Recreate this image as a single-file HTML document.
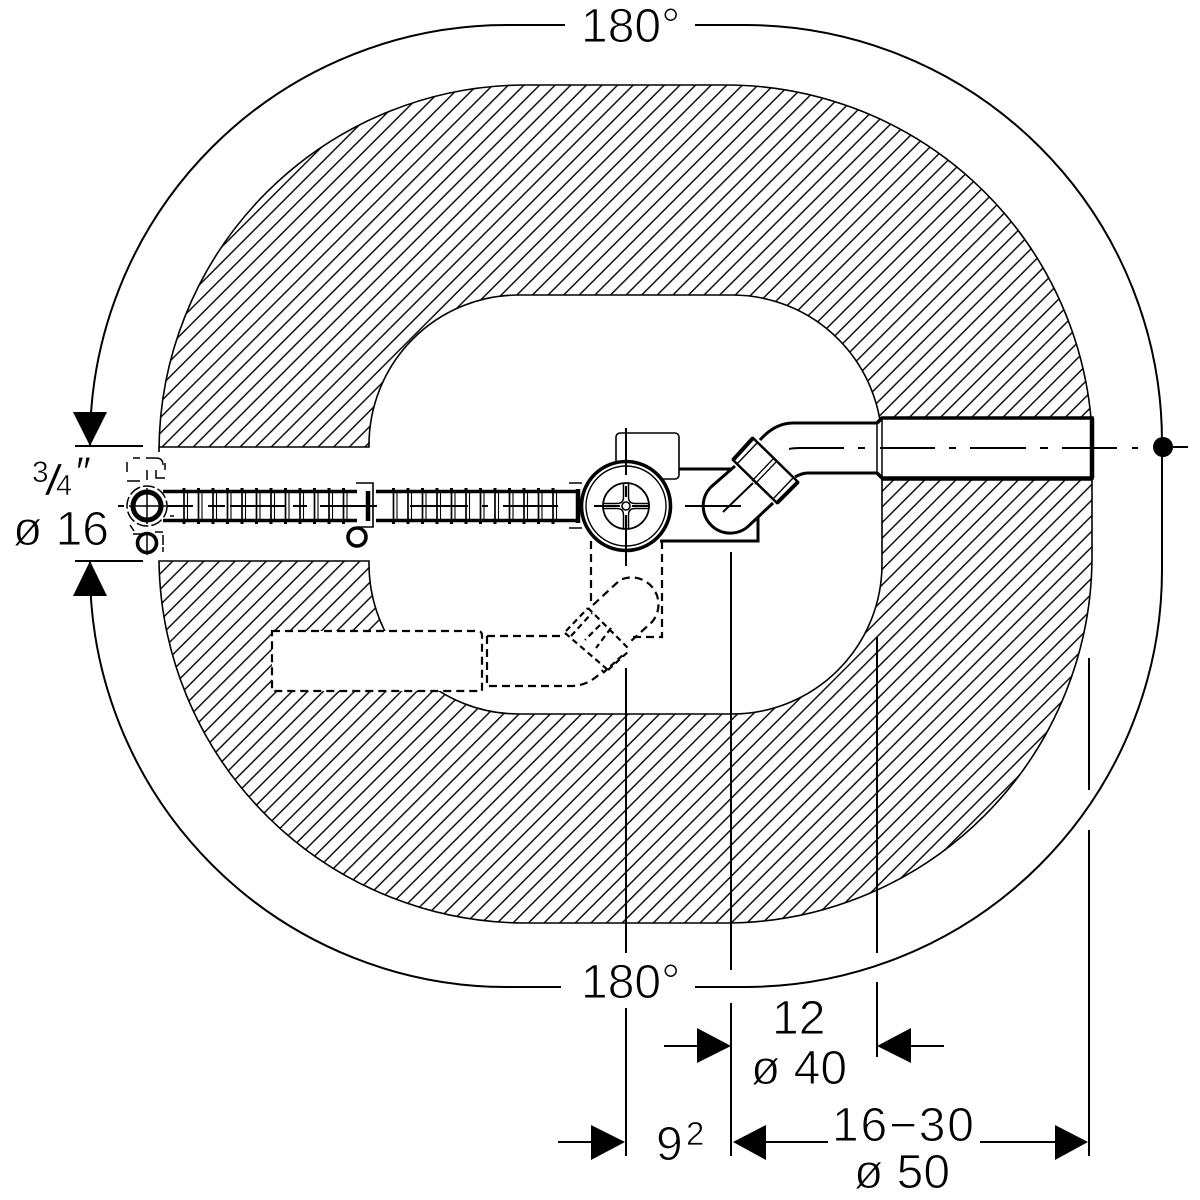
<!DOCTYPE html>
<html><head><meta charset="utf-8"><style>
html,body{margin:0;padding:0;background:#fff}
svg{display:block}
text{font-family:"Liberation Sans",sans-serif;font-size:48px;fill:#000;stroke:#fff;stroke-width:1px}
</style></head><body>
<svg width="1200" height="1200" viewBox="0 0 1200 1200" xmlns="http://www.w3.org/2000/svg" fill="none" stroke="#000" stroke-width="1.5">
<defs>
<pattern id="h" patternUnits="userSpaceOnUse" x="0.67" y="0" width="15.6" height="15.6">
<path d="M-2 2L2 -2M0 15.6L15.6 0M13.6 17.6L17.6 13.6" stroke="#000" stroke-width="1.4" fill="none"/>
</pattern>
</defs>
<!-- hatched ring -->
<path d="M159 447V452A367 367 0 0 1 526 85H725A367 367 0 0 1 1091 418H882V445A150 150 0 0 0 732 295H519A150 150 0 0 0 369 445V447Z" fill="url(#h)" stroke-width="1.6"/>
<path d="M159 561A367 367 0 0 0 526 923H725A367 367 0 0 0 1092 556V480H882V564A150 150 0 0 1 732 714H519A150 150 0 0 1 369 564V561Z" fill="url(#h)" stroke-width="1.6"/>
<!-- outer dimension arc -->
<path d="M565 25H507A417 417 0 0 0 90 442V446M90 561V570A417 417 0 0 0 507 987H561M695 987H745A417 417 0 0 0 1162 570V442A417 417 0 0 0 745 25H695" stroke-width="2"/>
<!-- dim extension lines -->
<path d="M75 446H143M75 561H143M626 668V953M626 1008V1156M731 552V970M731 1003V1156M877 637V953M877 982V1057M1089 658V790M1089 830V1156M664 1046H700M911 1046H944M558 1142H592M766 1142H828M980 1142H1055" stroke-width="2"/>
<path d="M73 412H107L90 446ZM73 596H107L90 561ZM697 1028V1063L731 1046ZM911 1028V1063L877 1046ZM591 1125V1160L625 1142ZM766 1125V1160L733 1142ZM1055 1125V1160L1088 1142Z" fill="#000" stroke="none"/>
<!-- dashed ghost box -->
<rect x="272" y="631" width="210" height="60" fill="#fff" stroke="none"/>
<path d="M272 631H478Q482 631 482 636V691H272Z" stroke-width="2.2" stroke-dasharray="8 5"/>
<path d="M487 636H565M487 636V686H570Q590 686 603 670M593 605L620 580A27 27 0 0 1 652 622L630 642M591 541V605M662 541V637H632" stroke-width="2.2" stroke-dasharray="8 5"/>
<path d="M566 631L588 608M571 636L592 613M588 608L630 650M608 670L630 650M603 673L625 653M600 625L585 640M611 628L596 648M565 633L608 670" stroke-width="2.2" stroke-dasharray="6 4"/>
<!-- rounded block behind valve -->
<rect x="616" y="433" width="63" height="46" rx="4" fill="#fff" stroke-width="1.6"/>
<path d="M679 469H732M660 541H758V515" stroke-width="3"/>
<!-- outlet pipe -->
<path d="M760 440Q775 423 793 423H877M795 477Q802 473 808 473H877" stroke-width="3"/>
<path d="M877 423L882 418H1092V478H882L877 473Z" fill="#fff" stroke="none"/>
<path d="M877 423L882 418H1092V478H882L877 473" stroke-width="3.6"/>
<path d="M877 423V473M882 418V478" stroke-width="1.5"/>
<path d="M1092 418V478" stroke-width="4.5"/>
<path d="M789 449Q793 448 800 448H844M858 448H865M880 448H935M949 448H956M970 448H1026M1040 448H1048M1062 448H1117M1132 448H1138M1170 447H1188" stroke-width="2"/>
<circle cx="1163" cy="447" r="10" fill="#000" stroke="none"/>
<!-- capsule -->
<path d="M735 466L711 487A27 27 0 0 0 749.6 525L773 503" fill="#fff" stroke-width="3"/>
<path d="M753 438L733 460L777 503L798 482Z" fill="#fff" stroke-width="2.5"/>
<path d="M757 443L737 464M793 478L773 499" stroke-width="1.4"/>
<path d="M753 438L733 460M798 482L777 503" stroke-width="4"/>
<path d="M776 462L755 484M773 459L752 481" stroke-width="1.3"/>
<path d="M723 512L753 483M685 506H741M665 506H670" stroke-width="2"/>
<!-- valve -->
<circle cx="626" cy="506" r="44.5" fill="#fff" stroke-width="3.6"/>
<circle cx="626" cy="506" r="40" stroke-width="1.4"/>
<circle cx="626" cy="506" r="23" stroke-width="1.8"/>
<path d="M623.5 484V497Q623.5 503.500 617 503.500H603M628.5 484V497Q628.5 503.500 635 503.500H649M603 508.500H617Q623.5 508.500 623.5 515V529M649 508.500H635Q628.5 508.500 628.5 515V529" stroke-width="1.5"/>
<circle cx="626" cy="506" r="4" stroke-width="1.6"/>
<path d="M626 428V475M626 486V497M626 515V566M594 506H620M632 506H650" stroke-width="2"/>
<!-- hoses -->
<path d="M163 491.5H357M163 520.5H357M376 491.5H578M376 520.5H578" stroke-width="3.4"/>
<path d="M368 491V521M578 489V523" stroke-width="4.5"/>
<path d="M184 490V522M198.500 490V522M213 490V522M227.500 490V522M242 490V522M256.500 490V522M271 490V522M285.500 490V522M300 490V522M314.500 490V522M329 490V522M343.500 490V522M393.500 490V522M408 490V522M422.500 490V522M437 490V522M451.500 490V522M466 490V522M480.500 490V522M495 490V522M509.500 490V522M524 490V522M538.500 490V522M553 490V522" stroke-width="1.7"/>
<path d="M184 488V493M198.500 488V493M213 488V493M227.500 488V493M242 488V493M256.500 488V493M271 488V493M285.500 488V493M300 488V493M314.500 488V493M329 488V493M343.500 488V493M393.500 488V493M408 488V493M422.500 488V493M437 488V493M451.500 488V493M466 488V493M480.500 488V493M495 488V493M509.500 488V493M524 488V493M538.500 488V493M553 488V493M184 519V524M198.500 519V524M213 519V524M227.500 519V524M242 519V524M256.500 519V524M271 519V524M285.500 519V524M300 519V524M314.500 519V524M329 519V524M343.500 519V524M393.500 519V524M408 519V524M422.500 519V524M437 519V524M451.500 519V524M466 519V524M480.500 519V524M495 519V524M509.500 519V524M524 519V524M538.500 519V524M553 519V524" stroke-width="3"/>
<path d="M187.500 492V520M202 492V520M216.500 492V520M231 492V520M245.500 492V520M260 492V520M274.500 492V520M289 492V520M303.500 492V520M318 492V520M332.500 492V520M347 492V520M397 492V520M411.500 492V520M426 492V520M440.500 492V520M455 492V520M469.500 492V520M484 492V520M498.500 492V520M513 492V520M527.500 492V520M542 492V520M556.500 492V520" stroke-width="1.1"/>
<path d="M118 506H124M167 506H193M208 506H225M230 506H285M293 506H307M320 506H377M410 506H468M482 506H488M503 506H558" stroke-width="2"/>
<path d="M356 483H373V527H358M569 483H582M569 528H582" stroke-width="1.6"/>
<circle cx="357" cy="537" r="9" fill="#fff" stroke-width="3.6"/>
<!-- left fitting -->
<path d="M127 462V472M127 481H140M133 458H140M146 458H156Q163 458 163 465M165 463V470M147 470V480M156 470V478H165M170 492H174M170 516H174M130 525L134 531M133 534H142M155 532H163M163 535V545M163 547V552" stroke-width="1.5"/>
<circle cx="147" cy="506" r="20" stroke-width="1.5" stroke-dasharray="12 3"/>
<circle cx="147" cy="506" r="14" fill="#fff" stroke-width="5"/>
<path d="M129 506H166M147 488V524" stroke-width="1.5"/>
<circle cx="147" cy="543" r="9.500" fill="#fff" stroke-width="3.6"/>
<path d="M147 532V555" stroke-width="1.5"/>
<!-- labels -->
<text x="581" y="42">180°</text>
<text x="581" y="998">180°</text>
<text x="772" y="1034">12</text>
<text x="751" y="1084">ø 40</text>
<text x="832" y="1141" textLength="142">16−30</text>
<text x="854" y="1188">ø 50</text>
<text x="656" y="1160">9</text>
<text x="686" y="1145" style="font-size:33px;stroke-width:.7px">2</text>
<text x="13" y="545" textLength="96">ø 16</text>
<text x="32" y="482" style="font-size:30px;stroke-width:.6px">3</text>
<text x="56" y="495" style="font-size:29px;stroke-width:.6px">4</text>
<text transform="translate(44 495) scale(1.55 1)" x="0" y="0" style="font-size:44px;stroke-width:1.2px">/</text>
<text x="74" y="486" style="font-size:42px;font-style:italic;stroke-width:.4px">″</text>
</svg>
</body></html>
